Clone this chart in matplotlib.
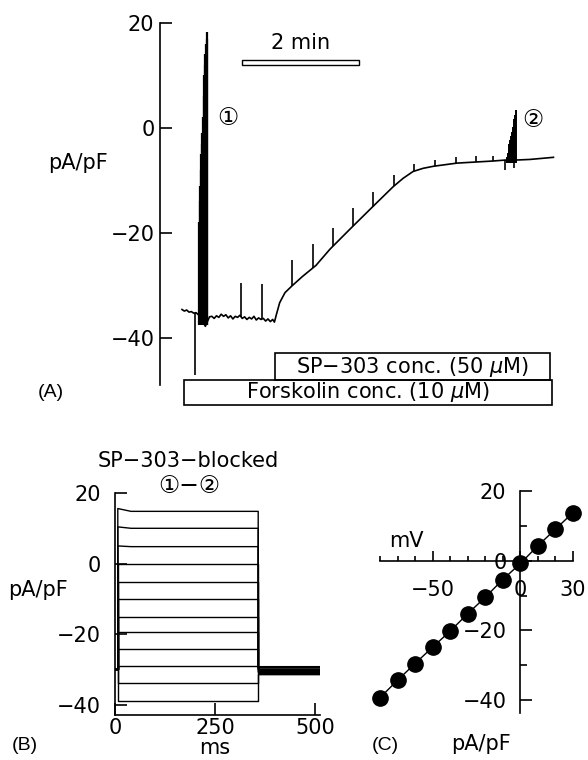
import matplotlib
matplotlib.use('Agg')
import matplotlib.pyplot as plt
from matplotlib.patches import Rectangle
import numpy as np

# circled digits are not in every font, so keep a fallback
plt.rcParams['font.family'] = ['DejaVu Sans', 'Noto Sans CJK JP']
plt.rcParams['font.size'] = 15

# ---------------- panel A : current density vs time (min, pA/pF)
trace_t = [0.00, 0.04, 0.08, 0.12, 0.16, 0.20, 0.24, 0.28, 0.40, 0.43, 0.47,
           0.51, 0.55, 0.59, 0.63, 0.67, 0.71, 0.75, 0.79, 0.83, 0.87, 0.91,
           0.95, 0.99, 1.03, 1.07, 1.11, 1.15, 1.19, 1.23, 1.27, 1.31, 1.35,
           1.39, 1.43, 1.47, 1.51, 1.55, 1.58,
           1.62, 1.67, 1.76, 1.88, 2.06, 2.29, 2.53, 2.87, 3.27, 3.61, 3.78,
           3.95, 4.12, 4.30, 4.70, 5.32, 5.55, 5.75, 5.95, 6.35]
trace_v = [-34.6, -34.9, -34.7, -35.1, -35.0, -35.3, -35.2, -35.6, -37.8, -37.0, -36.0,
           -35.9, -36.3, -35.8, -36.1, -35.5, -35.9, -35.6, -36.2, -35.8, -36.4, -35.9,
           -36.1, -35.7, -36.3, -36.0, -36.5, -36.1, -36.4, -35.9, -36.6, -36.2, -36.5,
           -36.3, -36.8, -36.4, -36.9, -36.5, -37.0,
           -35.3, -33.3, -31.4, -30.1, -28.3, -26.2, -23.1, -19.3, -14.9, -11.2, -9.6,
           -8.3, -7.7, -7.3, -6.7, -6.3, -6.1, -6.1, -6.0, -5.6]

# small capacitive transients on top of the trace
cap_t = [1.01, 1.37, 1.88, 2.24, 2.58, 2.92, 3.26, 3.62, 3.97, 4.32, 4.68, 5.03, 5.32]
cap_top = [-29.5, -29.8, -25.1, -22.1, -19.0, -15.3, -12.3, -9.0, -6.9, -6.1, -5.6, -5.3, -5.3]

# voltage step burst 1 (control) and burst 2 (SP-303)
burst1_t = [0.290, 0.300, 0.310, 0.320, 0.330, 0.340, 0.350, 0.360,
            0.370, 0.380, 0.390, 0.400, 0.410, 0.420, 0.427]
burst1_top = [-18, -14, -11, -8, -5, -3, -1, 2, 6, 10, 12, 14, 16, 17, 18.3]
burst1_low = -37.5
burst2_t = [5.556, 5.570, 5.584, 5.598, 5.612, 5.626, 5.640, 5.654, 5.668, 5.682, 5.696, 5.709]
burst2_top = [-5.5, -4.7, -3.9, -3.1, -2.3, -1.5, -0.7, 0.1, 0.9, 1.7, 2.5, 3.4]
burst2_low = -6.6
down_t = [0.22, 5.52, 5.68]
down_v = [-47.0, -8.0, -7.6]

# ---------------- panel B : current traces (ms, pA/pF)
step_levels = [14.8, 10.0, 4.8, 0.0, -5.1, -10.0, -15.1, -19.5, -24.3, -29.0, -33.8, -38.9]
step_early = [15.6, 10.4, 5.0, 0.0, -5.1, -10.0, -15.1, -19.5, -24.3, -29.0, -33.8, -38.9]
tail_levels = [-29.2, -29.4, -29.6, -29.8, -30.0, -30.2, -30.4, -30.6, -30.8, -31.0, -31.2, -31.4]
holding = -30.0
sweep_ms = [0, 7, 7, 40, 358, 358, 512]

# ---------------- panel C : I-V relation
iv_mv = [-80, -70, -60, -50, -40, -30, -20, -10, 0, 10, 20, 30]
iv_pa = [-39.3, -34.3, -29.5, -24.8, -20.2, -15.2, -10.5, -5.4, -0.8, 4.3, 9.05, 13.8]


W, H = 588, 760
def fx(px):
    return px / W
def fy(py):
    return 1 - py / H

fig = plt.figure(figsize=(W / 100, H / 100), dpi=100)

# ---- A
axA = fig.add_axes([fx(160), fy(405), 400 / W, 382 / H])
axA.plot(trace_t, trace_v, color='black', lw=1.2)
cap_base = np.interp(cap_t, trace_t, trace_v)
axA.vlines(cap_t, cap_base, cap_top, color='black', lw=1.2)
axA.vlines(burst1_t, burst1_low, burst1_top, color='black', lw=1.6)
axA.vlines(burst2_t, burst2_low, burst2_top, color='black', lw=1.4)
down_base = np.interp(down_t, trace_t, trace_v)
axA.vlines(down_t, down_v, down_base, color='black', lw=1.2)

axA.set_xlim(-0.376, 6.462)
axA.set_ylim(-52.8, 20)
for s in ['top', 'right', 'bottom']:
    axA.spines[s].set_visible(False)
axA.spines['left'].set_bounds(-49, 20)
axA.spines['left'].set_linewidth(1.2)
axA.set_xticks([])
axA.set_yticks([-40, -20, 0, 20])
axA.tick_params(axis='y', direction='in', length=8.5, width=1.2, pad=4)

# scale bar
axA.add_patch(Rectangle((1.03, 12.0), 2.0, 0.95, facecolor='white', edgecolor='black', lw=1.0))
axA.text(2.03, 14.2, '2 min', ha='center', va='bottom')
axA.text(0.79, 1.9, '\u2460', ha='center', va='center', fontsize=17)
axA.text(6.0, 1.5, '\u2461', ha='center', va='center', fontsize=17)

# application bars
axA.add_patch(Rectangle((1.59, -48.0), 4.70, 5.1, fill=False, lw=1.2, clip_on=False))
axA.text(1.59 + 4.70 / 2, -45.5, 'SP\u2212303 conc. (50 $\\mu$M)', ha='center', va='center')
axA.add_patch(Rectangle((0.034, -52.8), 6.286, 4.8, fill=False, lw=1.2, clip_on=False))
axA.text(0.034 + 6.286 / 2, -50.4, 'Forskolin conc. (10 $\\mu$M)', ha='center', va='center')

fig.text(fx(78), fy(163), 'pA/pF', ha='center', va='center')
fig.text(fx(38), fy(392), '(A)', ha='left', va='center', family='Liberation Sans', fontsize=14)

# ---- B
axB = fig.add_axes([fx(115), fy(715), 205 / W, 222 / H])
for v, e, tl in zip(step_levels, step_early, tail_levels):
    axB.plot(sweep_ms, [holding, holding, e, v, v, tl, tl], color='black', lw=1.0)
axB.set_xlim(0, 512.5)
axB.set_ylim(-42.9, 20)
for s in ['top', 'right']:
    axB.spines[s].set_visible(False)
for s in ['left', 'bottom']:
    axB.spines[s].set_linewidth(1.2)
axB.set_xticks([0, 250, 500])
axB.set_yticks([-40, -20, 0, 20])
axB.tick_params(axis='y', direction='in', length=8.5, width=1.2, pad=10)
axB.tick_params(axis='x', direction='in', length=8.5, width=1.2, pad=2)
fig.text(fx(188), fy(461), 'SP\u2212303\u2212blocked', ha='center', va='center')
fig.text(fx(189), fy(486), '\u2460\u2212\u2461', ha='center', va='center', fontsize=17)
fig.text(fx(38), fy(590), 'pA/pF', ha='center', va='center')
fig.text(fx(215), fy(748), 'ms', ha='center', va='center')
fig.text(fx(12), fy(745), '(B)', ha='left', va='center', family='Liberation Sans', fontsize=14)

# ---- C
axC = fig.add_axes([fx(380), fy(713), 193 / W, 222 / H])
axC.plot(iv_mv, iv_pa, color='black', lw=1.0, marker='o', markersize=11, clip_on=False)
axC.set_xlim(-80, 30)
axC.set_ylim(-43.7, 20)
for s in ['top', 'right']:
    axC.spines[s].set_visible(False)
axC.spines['left'].set_position(('data', 0))
axC.spines['bottom'].set_position(('data', 0))
for s in ['left', 'bottom']:
    axC.spines[s].set_linewidth(1.2)
axC.set_xticks([-50, 0, 30])
axC.set_xticks(range(-80, 31, 10), minor=True)
axC.set_yticks([-40, -20, 0, 20])
axC.set_yticks([-30, -10, 10], minor=True)
axC.tick_params(axis='y', which='major', direction='in', length=8.5, width=1.2, pad=10)
axC.tick_params(axis='y', which='minor', direction='in', length=5, width=1.2)
axC.tick_params(axis='x', which='major', direction='in', length=7, width=1.2, pad=14)
axC.tick_params(axis='x', which='minor', direction='in', length=3.5, width=1.2)
fig.text(fx(406), fy(541), 'mV', ha='center', va='center')
fig.text(fx(481), fy(744), 'pA/pF', ha='center', va='center')
fig.text(fx(372), fy(745), '(C)', ha='left', va='center', family='Liberation Sans', fontsize=14)

fig.savefig('out.png', dpi=100)
